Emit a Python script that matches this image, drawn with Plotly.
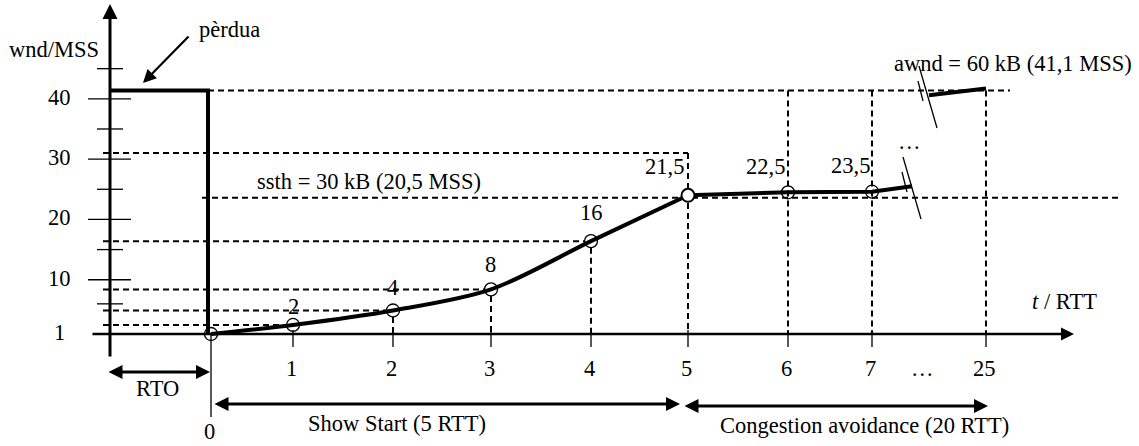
import plotly.graph_objects as go

# ---------------- data ----------------
rtt_ticks = ["0", "1", "2", "3", "4", "5", "6", "7", "25"]
point_labels = ["", "2", "4", "8", "16", "21,5", "22,5", "23,5"]      # wnd/MSS at RTT 0..7
wnd_drawn = [1.0, 2.5, 4.9, 8.4, 16.4, 24.0, 24.5, 24.6]             # heights as drawn
y_tick_vals = [1, 10, 20, 30, 40]
y_minor_vals = [45, 35, 25, 15, 6]
awnd_drawn = 41.4      # awnd = 60 kB (41,1 MSS); also wnd before the loss
ssth_drawn = 23.6      # ssth = 30 kB (20,5 MSS), as drawn
upper_guide = 31.0     # dashed guide ending above RTT 5

# ---------------- layout helpers ----------------
W, H = 1139, 446
X0, SX = 211.0, 100.0     # pixel of RTT 0, pixels per x unit
Y1, SY = 334.0, 6.03      # pixel of wnd 1, pixels per wnd unit


def xp(p):
    return (p - X0) / SX


def yp(p):
    return 1 + (Y1 - p) / SY


X_SLOT = [xp(p) for p in (211, 293, 393, 491, 591, 688, 788, 872, 986)]
FONT = dict(family="Liberation Serif, Times New Roman, serif", size=22.5, color="black")
R_X = 0.065               # circle radius in x units
R_Y = 6.5 / SY            # circle radius in y units

fig = go.Figure()

# dashed guide lines
dx, dy = [], []


def seg(x0, y0, x1, y1):
    dx.extend([x0, x1, None])
    dy.extend([y0, y1, None])


for i in range(1, 5):
    seg(xp(103), wnd_drawn[i], X_SLOT[i] - R_X, wnd_drawn[i])
for i in range(2, 5):
    seg(X_SLOT[i], wnd_drawn[i] - R_Y, X_SLOT[i], 1)
seg(xp(103), upper_guide, X_SLOT[5], upper_guide)
seg(X_SLOT[5], upper_guide, X_SLOT[5], 1)
seg(xp(202), ssth_drawn, xp(1118), ssth_drawn)
seg(X_SLOT[0] - 0.03, awnd_drawn, xp(1010), awnd_drawn)
for i in (6, 7, 8):
    seg(X_SLOT[i], awnd_drawn, X_SLOT[i], 1)

fig.add_trace(go.Scatter(x=dx, y=dy, mode="lines", hoverinfo="skip",
                         line=dict(color="black", width=2, dash="6px,4px")))

THICK = dict(color="black", width=4)
# window before loss and drop after RTO
fig.add_trace(go.Scatter(x=[xp(110), X_SLOT[0] - 0.03, X_SLOT[0] - 0.03],
                         y=[awnd_drawn, awnd_drawn, wnd_drawn[0]],
                         mode="lines", line=THICK, hoverinfo="skip"))
# slow start
fig.add_trace(go.Scatter(x=X_SLOT[0:6], y=wnd_drawn[0:6], mode="lines",
                         line=dict(color="black", width=4, shape="spline", smoothing=0.9),
                         hoverinfo="skip"))
# congestion avoidance
fig.add_trace(go.Scatter(x=X_SLOT[5:8] + [X_SLOT[7] + 0.40],
                         y=wnd_drawn[5:8] + [wnd_drawn[7] + 0.9],
                         mode="lines", line=THICK, hoverinfo="skip"))
fig.add_trace(go.Scatter(x=[X_SLOT[8] - 0.57, X_SLOT[8]],
                         y=[awnd_drawn - 0.8, awnd_drawn + 0.3],
                         mode="lines", line=THICK, hoverinfo="skip"))

# break marks
bx, by = [], []
for (cx, cy) in ((912, 186), (928, 95)):
    for (a, b, c, d) in ((-9, -29, 9, 33), (-10, -14, -5, 6)):
        bx.extend([xp(cx + a), xp(cx + c), None])
        by.extend([yp(cy + b), yp(cy + d), None])
fig.add_trace(go.Scatter(x=bx, y=by, mode="lines", hoverinfo="skip",
                         line=dict(color="black", width=1.3)))

# circles
open_idx = [0, 1, 2, 3, 4, 6, 7]
fig.add_trace(go.Scatter(x=[X_SLOT[i] for i in open_idx], y=[wnd_drawn[i] for i in open_idx],
                         mode="markers", hoverinfo="skip",
                         marker=dict(symbol="circle-open", size=13, color="black",
                                     line=dict(width=1.3, color="black"))))
fig.add_trace(go.Scatter(x=[X_SLOT[5]], y=[wnd_drawn[5]], mode="markers", hoverinfo="skip",
                         marker=dict(symbol="circle", size=13, color="white",
                                     line=dict(width=2, color="black"))))

shapes = []
# x ticks
for i in range(1, len(X_SLOT)):
    shapes.append(dict(type="line", xref="x", yref="y", x0=X_SLOT[i], x1=X_SLOT[i],
                       y0=yp(330), y1=yp(347), line=dict(color="black", width=1.3)))
# thin line under RTT 0
shapes.append(dict(type="line", xref="x", yref="y", x0=X_SLOT[0], x1=X_SLOT[0],
                   y0=1, y1=yp(417), line=dict(color="black", width=1.3)))
# y ticks
for v in y_tick_vals[1:]:
    shapes.append(dict(type="line", xref="x", yref="y", x0=xp(88), x1=xp(131),
                       y0=v, y1=v, line=dict(color="black", width=1.3)))
for v in y_minor_vals:
    shapes.append(dict(type="line", xref="x", yref="y", x0=xp(97), x1=xp(123),
                       y0=v, y1=v, line=dict(color="black", width=1.3)))

ann = []


def arrow(x, y, ax, ay, width=3, both=False, size=1.0):
    ann.append(dict(x=x, y=y, ax=ax, ay=ay, xref="x", yref="y", axref="x", ayref="y",
                    text="", showarrow=True, arrowhead=2, arrowsize=size,
                    arrowwidth=width, arrowcolor="black", standoff=0, startstandoff=0,
                    arrowside="end+start" if both else "end", startarrowhead=2,
                    startarrowsize=size))


# axes
arrow(xp(110), yp(4), xp(110), yp(358), width=3)
arrow(xp(1074), 1, xp(91), 1, width=2.6)
# phase arrows
arrow(X_SLOT[0] - 0.01, yp(372), xp(107), yp(372), width=2.8, both=True)
arrow(X_SLOT[5] - 0.08, yp(404), X_SLOT[0] + 0.02, yp(404), width=2.8, both=True)
arrow(X_SLOT[8] + 0.02, yp(406), X_SLOT[5] - 0.05, yp(406), width=2.8, both=True)
# loss pointer
arrow(xp(143), yp(83), xp(190), yp(35), width=2.2, size=1.2)


def text(t, px, py):
    ann.append(dict(x=xp(px), y=yp(py), xref="x", yref="y", text=t, showarrow=False,
                    font=FONT, xanchor="center", yanchor="middle"))


# y tick labels
for v in y_tick_vals:
    ann.append(dict(x=xp(59), y=v, xref="x", yref="y", text=str(v), showarrow=False,
                    font=FONT, xanchor="center", yanchor="middle", yshift=1.5))
# x tick labels
for i, t in enumerate(rtt_ticks):
    ann.append(dict(x=X_SLOT[i], y=yp(431 if i == 0 else 368), xref="x", yref="y", text=t,
                    showarrow=False, font=FONT, xanchor="center", yanchor="middle",
                    xshift=-2))
text("…", 922, 368)

# point labels
lab_dx = [0, 0, -1, -1, 0, -24, -23, -22]
lab_dy = [0, 18, 23, 25, 29, 29, 26, 26]
for i, t in enumerate(point_labels):
    if t:
        ann.append(dict(x=X_SLOT[i], y=wnd_drawn[i], xref="x", yref="y", text=t,
                        showarrow=False, font=FONT, xanchor="center", yanchor="middle",
                        xshift=lab_dx[i], yshift=lab_dy[i]))

text("wnd/MSS", 54, 49)
text("pèrdua", 229, 29)
text("ssth = 30 kB (20,5 MSS)", 369, 181)
text("awnd = 60 kB (41,1 MSS)", 1013, 63)
text("RTO", 157, 388)
text("Show Start (5 RTT)", 397, 423)
text("Congestion avoidance (20 RTT)", 864, 425)
text("<i>t</i> / RTT", 1064, 301)
text("…", 909, 141)

fig.update_layout(
    width=W, height=H, margin=dict(l=0, r=0, t=0, b=0),
    paper_bgcolor="white", plot_bgcolor="white", showlegend=False,
    xaxis=dict(range=[xp(0), xp(W)], visible=False, fixedrange=True),
    yaxis=dict(range=[yp(H), yp(0)], visible=False, fixedrange=True),
    shapes=shapes, annotations=ann,
)

fig.write_html("out.html", config={"displayModeBar": False},
               post_script="document.body.style.margin='0';")
